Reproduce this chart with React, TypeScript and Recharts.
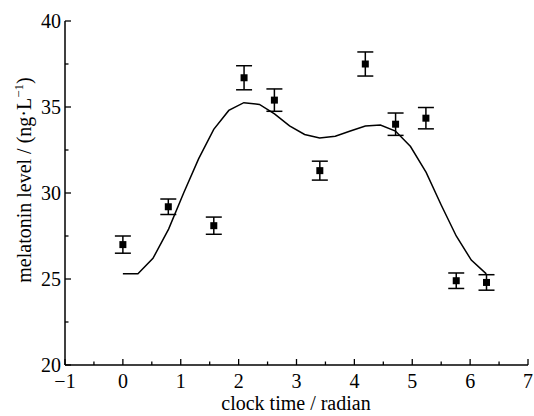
import { ComposedChart, Line, Scatter, ErrorBar, XAxis, YAxis } from 'recharts';

// measured points (clock time in radians)
const pointX = [0, 0.785, 1.571, 2.094, 2.618, 3.403, 4.189, 4.712, 5.236, 5.76, 6.283];
const pointY = [27.0, 29.2, 28.1, 36.7, 35.4, 31.3, 37.5, 34.0, 34.35, 24.9, 24.8];
const pointErr = [0.5, 0.45, 0.5, 0.7, 0.65, 0.55, 0.7, 0.65, 0.62, 0.45, 0.45];

// fitted curve
const curveX = [0, 0.26, 0.52, 0.79, 1.05, 1.31, 1.57, 1.83, 2.09, 2.36, 2.62, 2.88, 3.14, 3.4, 3.67, 3.93, 4.19, 4.45, 4.71, 4.97, 5.24, 5.5, 5.76, 6.02, 6.28];
const curveY = [25.3, 25.3, 26.2, 27.9, 30.0, 32.0, 33.7, 34.8, 35.25, 35.15, 34.6, 33.9, 33.4, 33.2, 33.3, 33.6, 33.9, 33.95, 33.6, 32.7, 31.2, 29.3, 27.5, 26.1, 25.3];

const xTicks = [-1, -0.5, 0, 0.5, 1, 1.5, 2, 2.5, 3, 3.5, 4, 4.5, 5, 5.5, 6, 6.5, 7];
const yTicks = [20, 22.5, 25, 27.5, 30, 32.5, 35, 37.5, 40];

const points = pointX.map((x, i) => ({ x, y: pointY[i], err: pointErr[i] }));
const curve = curveX.map((x, i) => ({ x, y: curveY[i] }));

const txt = { fontFamily: "'Liberation Serif', 'Times New Roman', Times, serif", fontSize: 20, fill: '#000' };

const fmt = (v: number) => (v < 0 ? '\u2212' + Math.abs(v) : String(v));

const XTick = (props: any) => {
  const { x, y, payload } = props;
  const major = Number.isInteger(payload.value);
  return (
    <g>
      <line x1={x} x2={x} y1={y} y2={y - (major ? 6 : 3.5)} stroke="#000" strokeWidth={1.3} />
      {major && (
        <text x={x} y={y + 23} textAnchor="middle" style={txt}>
          {fmt(payload.value)}
        </text>
      )}
    </g>
  );
};

const YTick = (props: any) => {
  const { x, y, payload } = props;
  const major = payload.value % 5 === 0;
  return (
    <g>
      <line x1={x} x2={x + (major ? 6 : 3.5)} y1={y} y2={y} stroke="#000" strokeWidth={1.3} />
      {major && (
        <text x={x - 4} y={y + 7} textAnchor="end" style={txt}>
          {payload.value}
        </text>
      )}
    </g>
  );
};

const Square = (props: any) => {
  const { cx, cy } = props;
  return <rect x={cx - 3.5} y={cy - 3.5} width={7} height={7} fill="#000" />;
};

export default function App() {
  return (
    <div style={{ position: 'absolute', left: 0, top: 0, background: '#fff' }}>
      <ComposedChart width={534} height={416} margin={{ top: 21, right: 6, bottom: 0, left: 0 }}>
        <XAxis
          type="number"
          dataKey="x"
          domain={[-1, 7]}
          ticks={xTicks}
          interval={0}
          tickSize={0}
          tickMargin={0}
          tick={<XTick />}
          axisLine={{ stroke: '#000', strokeWidth: 1.5 }}
          height={51}
          allowDataOverflow
        />
        <YAxis
          type="number"
          domain={[20, 40]}
          ticks={yTicks}
          interval={0}
          tickSize={0}
          tickMargin={0}
          tick={<YTick />}
          axisLine={{ stroke: '#000', strokeWidth: 1.5 }}
          width={65}
          allowDataOverflow
        />
        <Line
          data={curve}
          dataKey="y"
          type="linear"
          stroke="#000"
          strokeWidth={1.5}
          dot={false}
          activeDot={false}
          isAnimationActive={false}
        />
        <Scatter data={points} dataKey="y" shape={<Square />} isAnimationActive={false}>
          <ErrorBar dataKey="err" direction="y" width={8} stroke="#000" strokeWidth={1.5} />
        </Scatter>
        <text x={296} y={410} textAnchor="middle" style={txt}>
          clock time / radian
        </text>
        <text x={31} y={180} transform="rotate(-90 31 180)" textAnchor="middle" style={txt}>
          melatonin level / (ng·L
          <tspan dy={-8} style={{ fontSize: 13 }}>{'\u22121'}</tspan>
          <tspan dy={8}>)</tspan>
        </text>
      </ComposedChart>
    </div>
  );
}
